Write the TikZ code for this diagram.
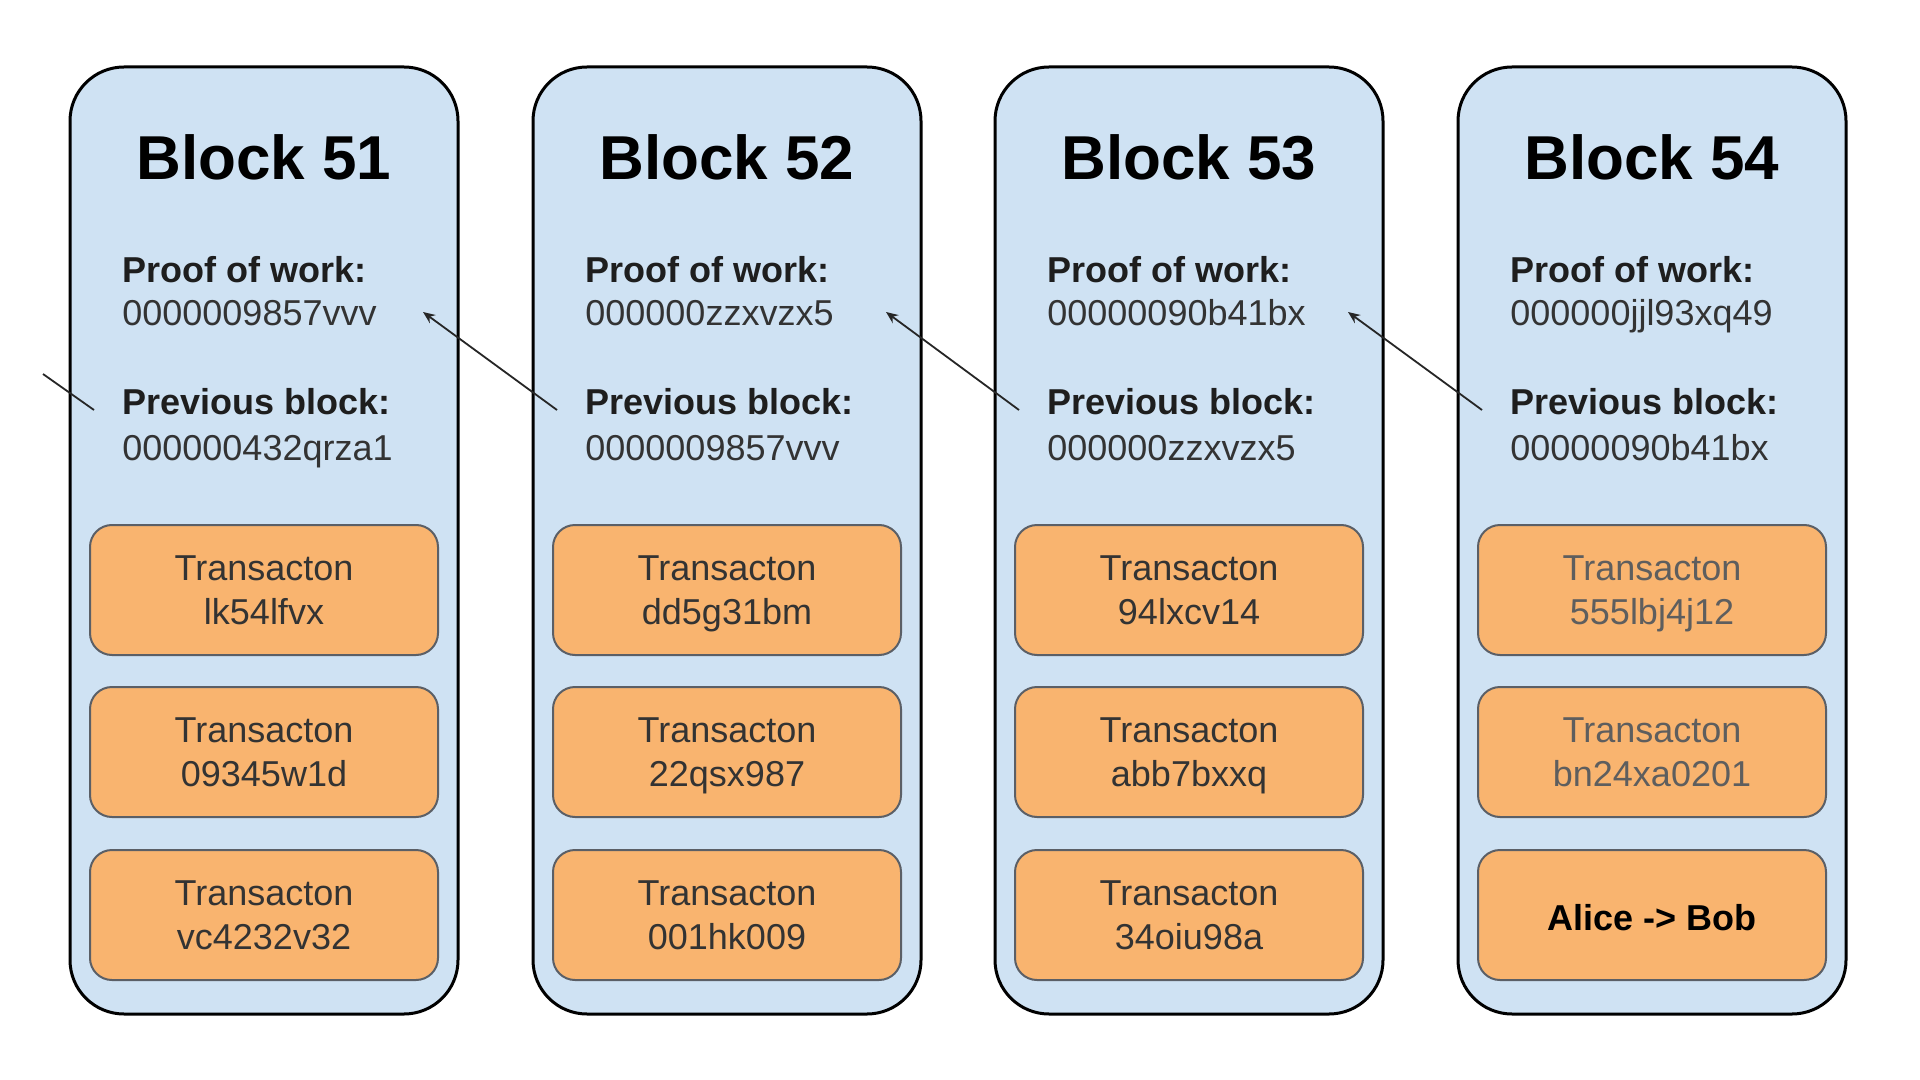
\documentclass[tikz,border=0pt]{standalone}
\usepackage{fontspec}
\setmainfont{Liberation Sans}
\usetikzlibrary{arrows.meta}
\definecolor{blockfill}{HTML}{CFE2F3}
\definecolor{txfill}{HTML}{F9B46F}
\definecolor{txline}{HTML}{5B5F66}
\definecolor{valtext}{HTML}{333333}
\definecolor{labtext}{HTML}{1E1E1E}
\definecolor{fadetext}{HTML}{5E5E5E}
\newcommand\topstrut{\rule{0pt}{19.4pt}}
\newcommand\botstrut{\rule[-6.6pt]{0pt}{6.6pt}}
\newcommand\alicestrut{\rule[-6.6pt]{0pt}{28.4pt}}
\begin{document}
\begin{tikzpicture}[x=0.5pt,y=-0.5pt,
  blockbox/.style={draw=black, line width=1.5pt, fill=blockfill, rounded corners=27pt,
    minimum width=194pt, minimum height=473.5pt, inner sep=0pt},
  txbox/.style={draw=txline, line width=1pt, fill=txfill, rounded corners=11pt,
    minimum width=174pt, minimum height=65pt, inner sep=0pt, align=center,
    font=\fontsize{18}{22}\selectfont, text=valtext},
  titletext/.style={font=\fontsize{31}{36}\selectfont\bfseries, text=black, inner sep=0pt},
  labeltext/.style={anchor=base west, font=\fontsize{18}{22}\selectfont\bfseries, text=labtext, inner sep=0pt},
  valuetext/.style={anchor=base west, font=\fontsize{18}{22}\selectfont, text=valtext, inner sep=0pt},
  link/.style={draw=black!85, line width=0.9pt, -{Stealth[length=6pt,width=5pt]}}
]
\useasboundingbox (0,0) rectangle (1920,1080);
\fill[white] (0,0) rectangle (1920,1080);

\foreach \i/\cx/\num/\pow/\prev in {
  1/264/51/0000009857vvv/000000432qrza1,
  2/727/52/000000zzxvzx5/0000009857vvv,
  3/1189/53/00000090b41bx/000000zzxvzx5,
  4/1652/54/000000jjl93xq49/00000090b41bx}{
  \node[blockbox] (b\i) at (\cx,540.5) {};
  \node[titletext] (title\i) at (\cx,157) {Block \num};
  \node[labeltext] (powl\i) at (\cx-142,283) {Proof of work:};
  \node[valuetext] (powv\i) at (\cx-142,326) {\pow};
  \node[labeltext] (prevl\i) at (\cx-142,415) {Previous block:};
  \node[valuetext] (prevv\i) at (\cx-142,460) {\prev};
  \coordinate (tail\i) at (\cx-170,410);
  \coordinate (tip\i) at (\cx+159,312);
}

% transactions
\foreach \i/\cx/\ta/\tb/\tc in {
  1/264/lk54lfvx/09345w1d/vc4232v32,
  2/727/dd5g31bm/22qsx987/001hk009,
  3/1189/94lxcv14/abb7bxxq/34oiu98a}{
  \node[txbox] (t\i a) at (\cx,590) {\topstrut Transacton\\\botstrut\ta};
  \node[txbox] (t\i b) at (\cx,752) {\topstrut Transacton\\\botstrut\tb};
  \node[txbox] (t\i c) at (\cx,915) {\topstrut Transacton\\\botstrut\tc};
}
\node[txbox, text=fadetext] (t4a) at (1652,590) {\topstrut Transacton\\\botstrut 555lbj4j12};
\node[txbox, text=fadetext] (t4b) at (1652,752) {\topstrut Transacton\\\botstrut bn24xa0201};
\node[txbox, text=black, font=\fontsize{18}{22}\selectfont\bfseries] (t4c) at (1652,915) {\alicestrut Alice -> Bob};

% links to previous block
\draw[link] (tail2) -- (tip1);
\draw[link] (tail3) -- (tip2);
\draw[link] (tail4) -- (tip3);
\coordinate (stubend) at (43,374);
\draw[draw=black!85, line width=0.9pt] (tail1) -- (stubend);
\end{tikzpicture}
\end{document}
